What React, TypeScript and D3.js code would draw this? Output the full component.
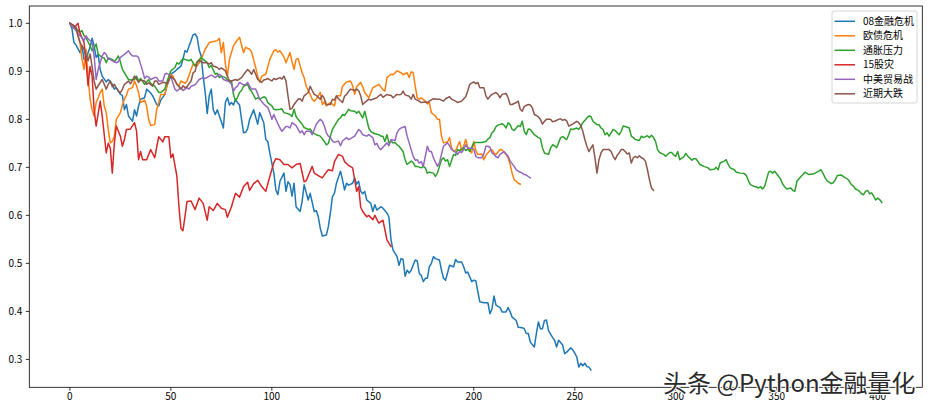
import React from 'react';
import * as d3 from 'd3';

type Pt = [number, number];

const seriesNames = ['08金融危机', '欧债危机', '通胀压力', '15股灾', '中美贸易战', '近期大跌'];
const seriesColors = ['#1f77b4', '#ff7f0e', '#2ca02c', '#d62728', '#9467bd', '#8c564b'];
const xTickValues = [0, 50, 100, 150, 200, 250, 300, 350, 400];
const yTickValues = [0.3, 0.4, 0.5, 0.6, 0.7, 0.8, 0.9, 1.0];
const watermark = '头条 @Python金融量化';

const crisis08: Pt[] = [[0,1.0],[1,0.99],[2,0.96],[3,0.955],[5,0.939],[6,0.953],[7,0.925],[8,0.92],[9,0.939],[10,0.95],[11,0.969],[12,0.953],[13,0.929],[14,0.935],[15,0.904],[16,0.89],[18,0.878],[19,0.883],[21,0.873],[22,0.863],[23,0.866],[25,0.852],[26,0.85],[27,0.82],[28,0.831],[29,0.807],[31,0.796],[32,0.82],[33,0.807],[34,0.828],[35,0.842],[37,0.845],[38,0.863],[40,0.855],[41,0.849],[43,0.831],[44,0.828],[45,0.84],[47,0.852],[48,0.869],[49,0.88],[50,0.894],[52,0.9],[53,0.904],[55,0.911],[56,0.925],[57,0.943],[58,0.94],[59,0.953],[60,0.964],[61,0.976],[62,0.978],[63,0.971],[64,0.945],[65,0.932],[66,0.89],[67,0.856],[68,0.812],[69,0.849],[70,0.863],[71,0.82],[72,0.81],[73,0.82],[74,0.807],[75,0.795],[76,0.782],[77,0.835],[78,0.845],[79,0.83],[80,0.835],[81,0.83],[82,0.842],[83,0.835],[84,0.83],[85,0.8],[86,0.772],[87,0.773],[88,0.78],[89,0.8],[91,0.82],[92,0.805],[93,0.79],[94,0.814],[96,0.793],[97,0.758],[98,0.754],[99,0.73],[100,0.709],[101,0.688],[102,0.653],[103,0.643],[104,0.671],[106,0.688],[107,0.65],[108,0.67],[109,0.664],[110,0.64],[111,0.667],[112,0.618],[114,0.608],[115,0.629],[116,0.664],[118,0.632],[119,0.646],[121,0.608],[122,0.61],[123,0.597],[124,0.573],[125,0.557],[127,0.559],[128,0.577],[129,0.605],[130,0.639],[131,0.646],[132,0.667],[134,0.692],[135,0.674],[136,0.653],[137,0.667],[138,0.663],[140,0.667],[141,0.678],[142,0.665],[143,0.671],[144,0.65],[145,0.645],[146,0.65],[147,0.632],[149,0.625],[150,0.608],[151,0.622],[152,0.611],[154,0.618],[155,0.615],[157,0.605],[158,0.596],[159,0.549],[160,0.528],[162,0.514],[163,0.496],[164,0.51],[165,0.508],[166,0.473],[167,0.486],[168,0.48],[169,0.486],[171,0.507],[172,0.505],[173,0.479],[174,0.475],[175,0.462],[176,0.469],[177,0.469],[178,0.493],[179,0.5],[180,0.514],[181,0.51],[183,0.507],[184,0.486],[185,0.469],[186,0.465],[187,0.48],[188,0.496],[190,0.493],[191,0.508],[192,0.503],[194,0.503],[195,0.493],[196,0.48],[197,0.482],[199,0.462],[200,0.465],[201,0.464],[202,0.441],[203,0.42],[205,0.418],[207,0.418],[208,0.395],[209,0.405],[210,0.432],[211,0.413],[213,0.408],[214,0.399],[216,0.399],[217,0.408],[218,0.399],[219,0.388],[221,0.381],[222,0.367],[224,0.366],[225,0.364],[226,0.354],[227,0.354],[228,0.336],[230,0.326],[231,0.354],[232,0.378],[233,0.364],[234,0.364],[235,0.381],[236,0.382],[237,0.36],[239,0.346],[240,0.34],[241,0.326],[242,0.34],[243,0.335],[244,0.33],[245,0.312],[246,0.315],[248,0.324],[249,0.32],[250,0.313],[251,0.305],[252,0.284],[253,0.292],[254,0.287],[255,0.292],[256,0.285],[257,0.284],[258,0.278]];

const euroDebt: Pt[] = [[0,1.0],[1,0.995],[3,0.988],[5,0.96],[6,0.925],[7,0.904],[8,0.946],[9,0.89],[10,0.842],[11,0.82],[12,0.807],[13,0.835],[14,0.845],[15,0.856],[16,0.863],[17,0.828],[18,0.814],[19,0.779],[20,0.751],[21,0.754],[22,0.765],[23,0.8],[25,0.814],[26,0.83],[27,0.842],[28,0.85],[29,0.863],[31,0.866],[32,0.88],[33,0.87],[34,0.856],[35,0.835],[37,0.84],[38,0.828],[39,0.8],[40,0.787],[42,0.789],[43,0.821],[44,0.835],[45,0.852],[47,0.852],[48,0.869],[50,0.894],[51,0.89],[52,0.88],[53,0.873],[54,0.87],[55,0.88],[57,0.875],[58,0.88],[60,0.904],[61,0.915],[63,0.911],[65,0.925],[67,0.946],[69,0.96],[71,0.962],[73,0.964],[74,0.969],[75,0.939],[76,0.96],[77,0.915],[78,0.89],[79,0.925],[81,0.953],[82,0.96],[84,0.971],[85,0.955],[86,0.939],[87,0.95],[89,0.946],[90,0.94],[92,0.908],[93,0.89],[94,0.877],[95,0.89],[97,0.894],[99,0.925],[101,0.943],[102,0.945],[103,0.94],[104,0.943],[106,0.93],[107,0.918],[109,0.939],[110,0.92],[111,0.904],[112,0.925],[113,0.927],[115,0.897],[116,0.887],[117,0.869],[119,0.852],[120,0.842],[121,0.838],[122,0.842],[124,0.856],[125,0.831],[126,0.836],[127,0.828],[129,0.835],[131,0.828],[132,0.849],[134,0.849],[135,0.869],[137,0.878],[139,0.88],[140,0.87],[141,0.852],[142,0.868],[144,0.877],[145,0.868],[146,0.856],[148,0.845],[150,0.866],[151,0.868],[153,0.873],[155,0.862],[156,0.859],[157,0.887],[159,0.894],[160,0.893],[162,0.901],[164,0.897],[165,0.893],[167,0.897],[168,0.887],[169,0.899],[170,0.897],[171,0.869],[172,0.845],[173,0.842],[174,0.845],[176,0.838],[177,0.832],[178,0.835],[179,0.814],[181,0.807],[182,0.8],[183,0.8],[184,0.765],[185,0.751],[187,0.753],[188,0.762],[189,0.741],[190,0.733],[191,0.735],[193,0.754],[194,0.735],[195,0.744],[196,0.758],[197,0.742],[199,0.73],[200,0.754],[201,0.735],[202,0.727],[204,0.728],[205,0.716],[206,0.725],[208,0.735],[209,0.737],[210,0.73],[211,0.727],[213,0.737],[214,0.736],[216,0.727],[217,0.72],[218,0.706],[219,0.688],[220,0.674],[221,0.671],[222,0.667],[223,0.665]];

const inflation: Pt[] = [[0,1.0],[2,0.995],[3,0.99],[5,0.981],[6,0.985],[7,0.974],[8,0.97],[10,0.953],[11,0.943],[12,0.948],[13,0.957],[14,0.936],[15,0.932],[16,0.929],[17,0.928],[18,0.918],[19,0.928],[21,0.925],[22,0.92],[23,0.925],[24,0.932],[25,0.92],[26,0.904],[28,0.89],[29,0.883],[30,0.882],[32,0.883],[33,0.89],[34,0.88],[35,0.885],[37,0.873],[38,0.878],[39,0.883],[40,0.875],[42,0.869],[43,0.863],[44,0.856],[45,0.856],[47,0.863],[48,0.877],[49,0.89],[50,0.901],[52,0.908],[53,0.918],[54,0.915],[56,0.927],[57,0.925],[59,0.922],[60,0.925],[62,0.911],[63,0.92],[65,0.929],[66,0.925],[68,0.918],[69,0.908],[70,0.912],[72,0.894],[73,0.896],[74,0.887],[75,0.89],[77,0.887],[78,0.882],[80,0.88],[81,0.852],[82,0.838],[83,0.846],[84,0.856],[85,0.86],[86,0.869],[88,0.873],[89,0.863],[90,0.858],[92,0.842],[93,0.845],[94,0.842],[96,0.847],[97,0.845],[98,0.835],[100,0.828],[101,0.821],[102,0.82],[104,0.821],[105,0.822],[106,0.814],[107,0.813],[109,0.81],[110,0.806],[111,0.821],[112,0.806],[113,0.8],[115,0.79],[116,0.783],[118,0.779],[119,0.78],[120,0.773],[122,0.768],[124,0.765],[126,0.754],[127,0.747],[128,0.75],[129,0.765],[130,0.779],[132,0.793],[133,0.8],[134,0.803],[135,0.81],[136,0.808],[137,0.814],[138,0.821],[139,0.818],[141,0.817],[142,0.813],[143,0.817],[145,0.803],[146,0.817],[147,0.8],[148,0.782],[149,0.775],[150,0.772],[151,0.77],[153,0.768],[154,0.765],[155,0.765],[156,0.754],[157,0.768],[158,0.751],[159,0.755],[160,0.751],[161,0.752],[162,0.747],[163,0.744],[165,0.733],[166,0.716],[167,0.706],[169,0.713],[170,0.71],[171,0.702],[172,0.702],[174,0.699],[175,0.702],[176,0.699],[177,0.688],[178,0.69],[180,0.688],[181,0.681],[182,0.688],[183,0.702],[184,0.716],[185,0.72],[186,0.713],[187,0.716],[188,0.702],[190,0.727],[191,0.725],[192,0.737],[193,0.735],[195,0.741],[196,0.735],[197,0.738],[198,0.733],[200,0.751],[201,0.752],[202,0.752],[204,0.752],[206,0.754],[207,0.759],[208,0.762],[209,0.772],[210,0.776],[211,0.785],[212,0.788],[214,0.791],[215,0.788],[216,0.782],[217,0.793],[218,0.789],[219,0.779],[220,0.777],[222,0.787],[223,0.785],[224,0.796],[225,0.775],[226,0.768],[227,0.78],[228,0.779],[230,0.768],[231,0.765],[232,0.762],[233,0.76],[234,0.741],[235,0.73],[237,0.727],[238,0.74],[239,0.747],[240,0.745],[241,0.741],[242,0.751],[243,0.762],[244,0.764],[246,0.758],[247,0.768],[248,0.78],[249,0.779],[251,0.782],[252,0.779],[253,0.785],[254,0.793],[256,0.803],[257,0.807],[258,0.806],[259,0.796],[261,0.789],[262,0.789],[263,0.782],[264,0.779],[265,0.768],[266,0.772],[267,0.765],[268,0.772],[269,0.779],[270,0.777],[272,0.768],[273,0.775],[274,0.786],[275,0.785],[277,0.782],[278,0.765],[279,0.762],[280,0.758],[282,0.756],[283,0.765],[284,0.762],[286,0.766],[287,0.762],[288,0.767],[289,0.762],[290,0.754],[291,0.737],[292,0.731],[293,0.729],[294,0.727],[295,0.723],[297,0.731],[298,0.731],[299,0.726],[300,0.723],[301,0.733],[302,0.716],[304,0.722],[305,0.729],[306,0.723],[308,0.715],[309,0.718],[310,0.718],[311,0.712],[312,0.706],[314,0.702],[316,0.699],[317,0.695],[319,0.696],[320,0.7],[321,0.695],[322,0.709],[324,0.713],[325,0.716],[326,0.706],[327,0.699],[329,0.695],[330,0.69],[332,0.688],[334,0.687],[335,0.683],[336,0.672],[337,0.664],[339,0.66],[340,0.659],[341,0.657],[342,0.66],[343,0.655],[344,0.66],[345,0.675],[346,0.69],[347,0.692],[348,0.688],[349,0.692],[351,0.681],[352,0.675],[353,0.665],[354,0.659],[355,0.655],[357,0.657],[358,0.652],[359,0.65],[360,0.671],[362,0.681],[363,0.685],[364,0.69],[366,0.685],[368,0.686],[370,0.69],[372,0.695],[373,0.687],[374,0.678],[375,0.672],[377,0.666],[378,0.668],[379,0.674],[380,0.683],[382,0.684],[384,0.678],[385,0.676],[386,0.671],[387,0.664],[388,0.661],[389,0.655],[390,0.653],[391,0.65],[392,0.645],[393,0.643],[394,0.65],[395,0.652],[396,0.645],[397,0.647],[398,0.64],[399,0.632],[400,0.636],[401,0.633],[402,0.627]];

const crash15: Pt[] = [[0,1.0],[2,0.99],[4,1.0],[5,0.98],[7,0.96],[8,0.92],[9,0.87],[10,0.91],[11,0.89],[12,0.82],[13,0.786],[15,0.838],[16,0.807],[18,0.73],[19,0.75],[20,0.74],[21,0.688],[22,0.75],[23,0.786],[25,0.765],[26,0.744],[27,0.758],[28,0.779],[30,0.78],[32,0.793],[33,0.776],[34,0.716],[35,0.733],[36,0.716],[38,0.716],[40,0.737],[42,0.72],[44,0.764],[46,0.753],[47,0.764],[49,0.764],[50,0.72],[51,0.728],[53,0.681],[54,0.618],[55,0.573],[56,0.568],[58,0.629],[60,0.63],[62,0.612],[64,0.636],[66,0.625],[68,0.59],[69,0.618],[71,0.61],[73,0.625],[75,0.615],[77,0.612],[78,0.596],[80,0.618],[82,0.646],[84,0.638],[86,0.66],[88,0.669],[89,0.652],[91,0.666],[93,0.673],[95,0.66],[97,0.65],[99,0.681],[101,0.71],[102,0.718],[104,0.716],[106,0.706],[108,0.706],[110,0.699],[112,0.706],[114,0.708],[116,0.67],[117,0.672],[120,0.702],[121,0.688],[123,0.683],[125,0.678],[127,0.69],[128,0.695],[130,0.693],[131,0.712],[133,0.727],[135,0.723],[136,0.712],[138,0.704],[140,0.699],[141,0.675],[142,0.65],[143,0.66],[144,0.617],[145,0.608],[147,0.597],[148,0.6],[150,0.591],[151,0.6],[153,0.584],[155,0.59],[156,0.57],[157,0.549],[159,0.535]];

const tradeWar: Pt[] = [[0,1.0],[2,0.99],[3,0.985],[5,0.974],[6,0.97],[7,0.964],[8,0.974],[9,0.968],[11,0.96],[12,0.932],[13,0.883],[14,0.904],[15,0.918],[16,0.932],[17,0.939],[18,0.935],[19,0.925],[20,0.925],[21,0.922],[23,0.918],[24,0.92],[25,0.929],[26,0.932],[28,0.939],[29,0.943],[30,0.936],[31,0.932],[33,0.932],[34,0.929],[35,0.915],[36,0.901],[37,0.885],[38,0.89],[39,0.888],[40,0.883],[42,0.887],[43,0.887],[44,0.88],[46,0.88],[47,0.894],[48,0.896],[50,0.89],[51,0.876],[52,0.863],[53,0.859],[55,0.866],[56,0.86],[57,0.863],[58,0.866],[59,0.863],[60,0.869],[62,0.872],[63,0.877],[64,0.883],[66,0.887],[67,0.885],[69,0.89],[70,0.892],[71,0.89],[72,0.887],[74,0.894],[75,0.89],[76,0.883],[78,0.88],[79,0.878],[80,0.873],[81,0.859],[82,0.866],[83,0.869],[84,0.877],[86,0.872],[87,0.872],[88,0.877],[89,0.869],[90,0.863],[92,0.863],[93,0.853],[94,0.842],[96,0.832],[97,0.828],[98,0.825],[99,0.814],[100,0.8],[101,0.81],[102,0.8],[104,0.782],[105,0.775],[107,0.785],[108,0.785],[109,0.782],[110,0.793],[111,0.79],[112,0.787],[114,0.772],[115,0.776],[116,0.768],[117,0.775],[119,0.775],[120,0.768],[121,0.779],[122,0.79],[124,0.8],[125,0.796],[126,0.786],[127,0.772],[128,0.765],[129,0.762],[130,0.755],[131,0.752],[133,0.755],[134,0.745],[135,0.755],[137,0.762],[138,0.758],[139,0.76],[141,0.765],[142,0.772],[143,0.779],[144,0.775],[145,0.768],[147,0.765],[148,0.768],[150,0.762],[151,0.747],[152,0.75],[153,0.741],[154,0.737],[155,0.742],[157,0.751],[158,0.745],[159,0.758],[161,0.756],[162,0.772],[163,0.779],[164,0.782],[166,0.785],[167,0.765],[168,0.751],[169,0.737],[170,0.723],[171,0.715],[172,0.716],[173,0.709],[174,0.712],[175,0.702],[177,0.744],[178,0.733],[179,0.733],[180,0.72],[182,0.702],[183,0.71],[184,0.727],[185,0.744],[187,0.751],[188,0.745],[189,0.737],[190,0.735],[192,0.727],[193,0.733],[194,0.731],[195,0.737],[196,0.747],[197,0.74],[199,0.74],[200,0.738],[201,0.723],[202,0.72],[204,0.72],[205,0.728],[206,0.744],[207,0.744],[208,0.742],[209,0.73],[210,0.727],[211,0.722],[212,0.72],[213,0.727],[215,0.733],[216,0.728],[217,0.723],[218,0.713],[220,0.702],[221,0.695],[222,0.692],[224,0.688],[225,0.685],[226,0.684],[227,0.681],[228,0.678]];

const recentDrop: Pt[] = [[0,1.0],[1,0.998],[3,0.992],[4,0.975],[5,0.96],[7,0.946],[8,0.932],[9,0.922],[10,0.936],[11,0.91],[12,0.88],[13,0.863],[14,0.87],[16,0.883],[17,0.873],[18,0.863],[19,0.873],[20,0.88],[21,0.868],[22,0.873],[23,0.865],[24,0.859],[25,0.855],[26,0.863],[27,0.873],[28,0.876],[29,0.88],[30,0.874],[32,0.89],[33,0.884],[34,0.877],[35,0.882],[37,0.88],[38,0.873],[39,0.876],[41,0.869],[42,0.88],[43,0.88],[44,0.873],[46,0.877],[47,0.877],[48,0.873],[49,0.882],[50,0.89],[52,0.882],[53,0.873],[55,0.863],[56,0.87],[57,0.866],[58,0.868],[60,0.88],[61,0.897],[62,0.9],[63,0.918],[64,0.922],[66,0.918],[68,0.918],[69,0.915],[70,0.918],[71,0.911],[73,0.908],[74,0.904],[75,0.907],[77,0.901],[78,0.89],[79,0.88],[80,0.88],[82,0.883],[83,0.881],[85,0.887],[86,0.893],[88,0.904],[89,0.9],[90,0.894],[91,0.904],[92,0.894],[93,0.883],[95,0.877],[96,0.882],[97,0.883],[98,0.885],[100,0.88],[101,0.885],[102,0.883],[104,0.887],[105,0.884],[106,0.89],[107,0.88],[108,0.849],[109,0.821],[110,0.823],[111,0.831],[113,0.842],[114,0.843],[115,0.838],[116,0.849],[118,0.856],[119,0.869],[120,0.86],[121,0.852],[122,0.85],[124,0.842],[125,0.85],[126,0.843],[127,0.831],[129,0.831],[130,0.842],[131,0.84],[132,0.849],[133,0.843],[135,0.835],[136,0.848],[137,0.852],[138,0.858],[139,0.863],[141,0.86],[142,0.863],[143,0.86],[144,0.849],[145,0.831],[146,0.835],[148,0.842],[149,0.84],[150,0.842],[152,0.845],[153,0.849],[154,0.852],[155,0.846],[157,0.852],[158,0.85],[159,0.85],[160,0.845],[162,0.852],[163,0.851],[164,0.852],[165,0.859],[166,0.851],[168,0.848],[169,0.842],[170,0.852],[171,0.842],[173,0.838],[174,0.835],[176,0.836],[177,0.835],[178,0.838],[180,0.843],[182,0.842],[183,0.842],[185,0.838],[186,0.843],[188,0.847],[189,0.842],[191,0.838],[192,0.835],[194,0.838],[196,0.847],[197,0.859],[198,0.873],[200,0.878],[201,0.874],[202,0.877],[203,0.866],[205,0.866],[206,0.849],[207,0.842],[208,0.848],[209,0.852],[211,0.856],[212,0.852],[213,0.845],[214,0.852],[216,0.854],[217,0.845],[218,0.831],[219,0.831],[221,0.835],[222,0.838],[223,0.821],[224,0.817],[225,0.827],[227,0.831],[228,0.83],[229,0.824],[230,0.81],[231,0.808],[232,0.805],[233,0.8],[234,0.79],[235,0.796],[236,0.8],[238,0.8],[239,0.795],[240,0.796],[242,0.8],[243,0.801],[244,0.798],[245,0.8],[246,0.797],[247,0.786],[249,0.79],[250,0.793],[251,0.796],[252,0.793],[253,0.787],[254,0.775],[255,0.758],[256,0.744],[257,0.733],[258,0.74],[259,0.747],[260,0.72],[261,0.688],[262,0.716],[263,0.73],[264,0.737],[266,0.737],[267,0.737],[268,0.733],[269,0.723],[270,0.716],[271,0.725],[272,0.73],[273,0.737],[274,0.737],[275,0.733],[276,0.728],[277,0.73],[278,0.709],[279,0.72],[280,0.723],[281,0.72],[282,0.724],[283,0.72],[284,0.718],[285,0.713],[286,0.695],[287,0.674],[288,0.657],[289,0.652]];

const allSeries: Pt[][] = [crisis08, euroDebt, inflation, crash15, tradeWar, recentDrop];

const W = 929;
const H = 409;
const M = { left: 29.3, right: 922.3, top: 6, bottom: 387.3 };
const FONT = '"Noto Sans CJK SC", "Noto Sans", sans-serif';

export default function App() {
  const flat = allSeries.flat();
  const xMin = d3.min(flat, (d) => d[0]) as number;
  const xMax = d3.max(flat, (d) => d[0]) as number;
  const yMin = d3.min(flat, (d) => d[1]) as number;
  const yMax = d3.max(flat, (d) => d[1]) as number;
  const xPad = (xMax - xMin) * 0.05;
  const yPad = (yMax - yMin) * 0.05;

  const x = d3.scaleLinear().domain([xMin - xPad, xMax + xPad]).range([M.left, M.right]);
  const y = d3.scaleLinear().domain([yMin - yPad, yMax + yPad]).range([M.bottom, M.top]);

  const line = d3
    .line<Pt>()
    .x((d) => x(d[0]))
    .y((d) => y(d[1]));

  const legendX = 832;
  const legendY = 11;
  const rowH = 14.5;

  return (
    <div style={{ position: 'fixed', left: 0, top: 0, width: W, height: H, background: '#fff' }}>
      <svg width={W} height={H} viewBox={`0 0 ${W} ${H}`} style={{ display: 'block', fontFamily: FONT }}>
        <rect x={0} y={0} width={W} height={H} fill="#fff" />
        {allSeries.map((s, i) => (
          <path
            key={seriesNames[i]}
            d={line(s) || ''}
            fill="none"
            stroke={seriesColors[i]}
            strokeWidth={1.5}
            strokeLinejoin="round"
            strokeLinecap="square"
          />
        ))}
        <rect
          x={M.left}
          y={M.top}
          width={M.right - M.left}
          height={M.bottom - M.top}
          fill="none"
          stroke="#000"
          strokeWidth={0.8}
        />
        {xTickValues.map((t) => (
          <g key={'x' + t} transform={`translate(${x(t)},${M.bottom})`}>
            <line y1={0} y2={3.5} stroke="#000" strokeWidth={0.8} />
            <text y={13} textAnchor="middle" fontSize={10} fill="#000">
              {t}
            </text>
          </g>
        ))}
        {yTickValues.map((t) => (
          <g key={'y' + t} transform={`translate(${M.left},${y(t)})`}>
            <line x1={0} x2={-3.5} stroke="#000" strokeWidth={0.8} />
            <text x={-7} dy="0.35em" textAnchor="end" fontSize={10} fill="#000">
              {d3.format('.1f')(t)}
            </text>
          </g>
        ))}
        <rect
          x={legendX}
          y={legendY}
          width={85}
          height={92}
          rx={2}
          fill="#fff"
          fillOpacity={0.8}
          stroke="#cccccc"
          strokeWidth={0.8}
        />
        {seriesNames.map((n, i) => {
          const cy = legendY + 10.3 + i * rowH;
          return (
            <g key={'lg' + n}>
              <line x1={legendX + 2.5} x2={legendX + 23} y1={cy} y2={cy} stroke={seriesColors[i]} strokeWidth={1.5} />
              <text x={legendX + 31} y={cy} dy="0.35em" fontSize={10} fill="#000">
                {n}
              </text>
            </g>
          );
        })}
        <text
          x={663}
          y={392}
          fontSize={24}
          fill="#2a2a2a"
          stroke="#ffffff"
          strokeWidth={2.2}
          paintOrder="stroke"
          style={{ fontFamily: FONT }}
        >
          {watermark}
        </text>
      </svg>
    </div>
  );
}
